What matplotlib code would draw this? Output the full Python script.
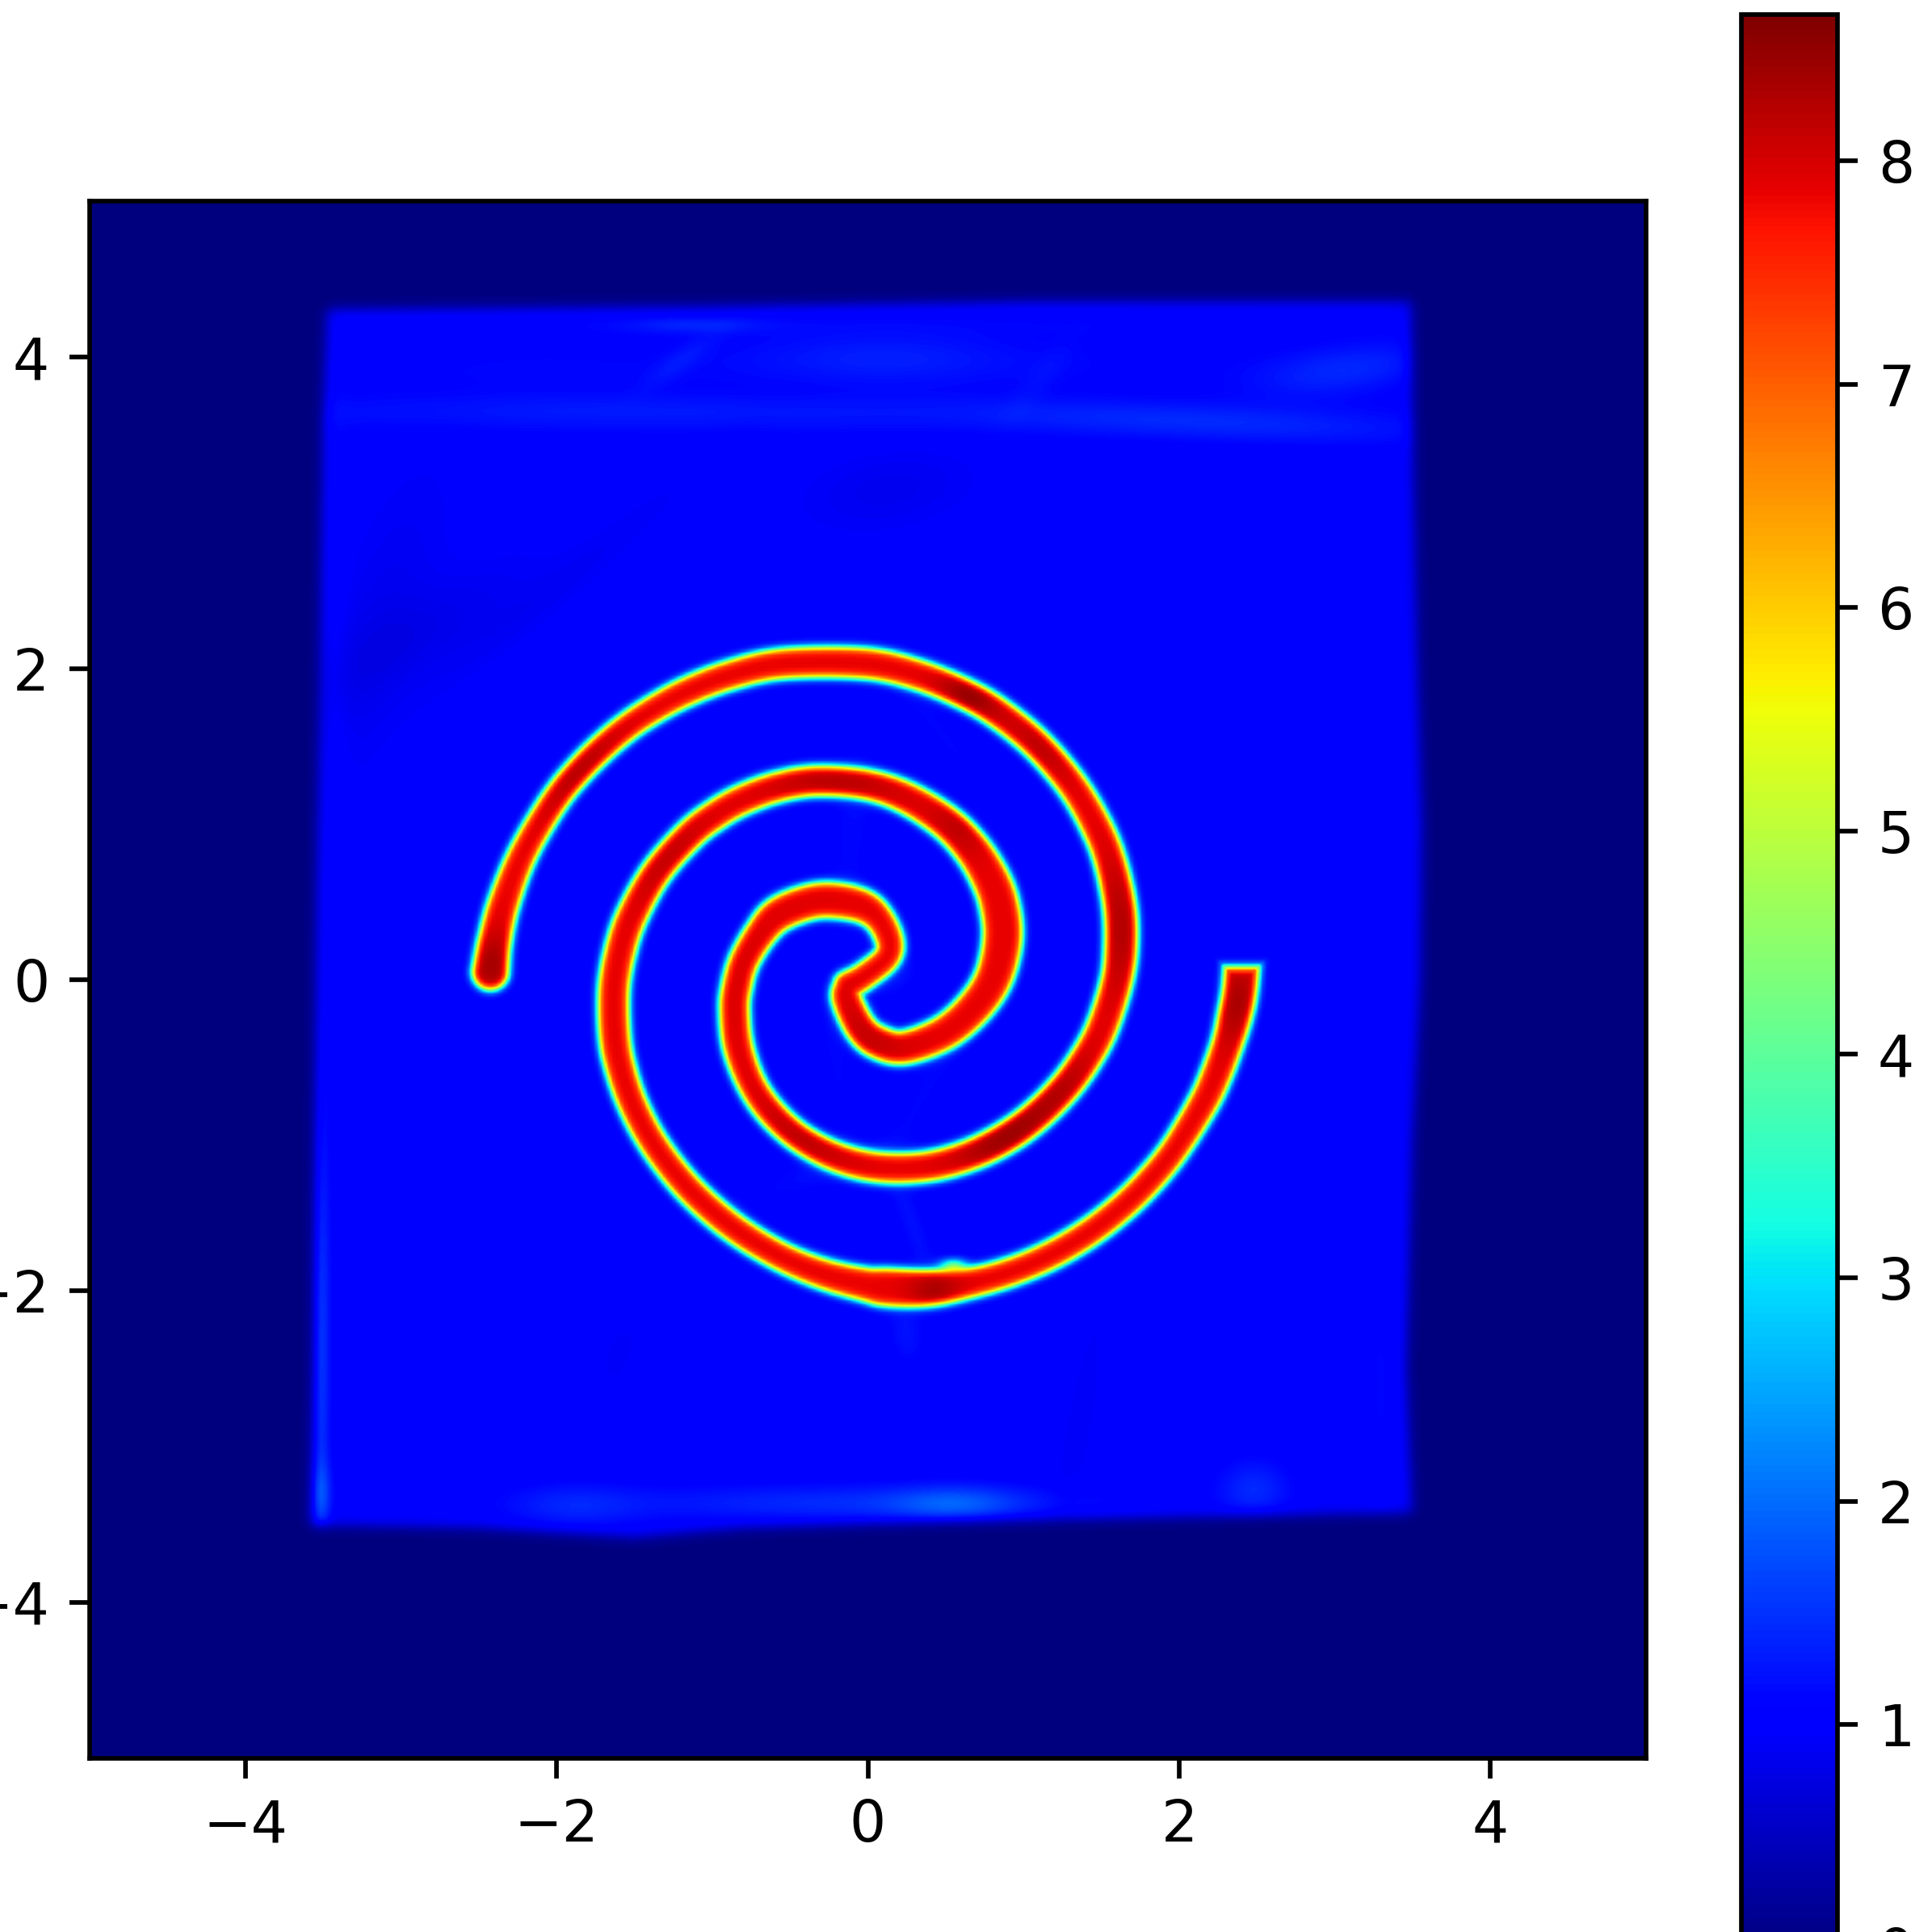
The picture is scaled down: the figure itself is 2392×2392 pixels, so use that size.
import numpy as np
import matplotlib
matplotlib.use("Agg")
import matplotlib.pyplot as plt

# Centre lines of the two spiral arms (data units), with half-widths
arm_a_x = [-2.414,-2.40,-2.345,-2.224,-2.038,-1.857,-1.649,-1.442,-1.182,-0.888,-0.542,-0.023,0.323,0.652,0.877,1.102,1.309,1.482,1.569,1.621,1.629,1.603,1.516,1.412,1.257,1.066,0.859,0.616,0.357,0.063,-0.197,-0.439,-0.629,-0.759,-0.828,-0.845,-0.836,-0.810,-0.689,-0.577,-0.369,-0.196,-0.023,0.081,0.141,0.115,-0.023,-0.127]
arm_a_y = [0.053,0.25,0.50,0.814,1.143,1.350,1.549,1.696,1.843,1.964,2.034,2.025,1.964,1.826,1.696,1.489,1.229,0.987,0.762,0.468,0.208,-0.016,-0.293,-0.484,-0.674,-0.864,-1.020,-1.132,-1.201,-1.205,-1.141,-1.011,-0.847,-0.657,-0.414,-0.190,-0.051,0.122,0.295,0.425,0.503,0.511,0.470,0.381,0.243,0.139,0.027,-0.034]
arm_a_w = [0.115,0.105,0.098,0.09,0.087,0.087,0.087,0.087,0.09,0.092,0.095,0.097,0.095,0.095,0.095,0.095,0.095,0.098,0.10,0.104,0.104,0.10,0.10,0.10,0.10,0.10,0.10,0.097,0.095,0.095,0.093,0.09,0.09,0.09,0.095,0.095,0.095,0.095,0.10,0.11,0.112,0.112,0.105,0.092,0.087,0.085,0.085,0.09]
arm_b_x = [2.41,2.395,2.365,2.315,2.235,2.139,1.966,1.793,1.620,1.412,1.170,0.911,0.651,0.392,0.132,-0.023,-0.283,-0.543,-0.802,-1.010,-1.21,-1.390,-1.511,-1.598,-1.632,-1.641,-1.589,-1.511,-1.355,-1.147,-0.974,-0.801,-0.577,-0.334,-0.023,0.236,0.496,0.669,0.799,0.859,0.868,0.825,0.669,0.487,0.236,0.063,-0.049,-0.136,-0.127]
arm_b_y = [0.25,-0.05,-0.22,-0.40,-0.61,-0.795,-1.089,-1.297,-1.470,-1.625,-1.764,-1.868,-1.945,-1.997,-1.995,-1.965,-1.885,-1.76,-1.60,-1.425,-1.265,-1.037,-0.795,-0.570,-0.363,-0.051,0.209,0.425,0.693,0.935,1.065,1.169,1.246,1.281,1.260,1.177,1.013,0.831,0.641,0.468,0.260,0.018,-0.172,-0.335,-0.432,-0.397,-0.302,-0.120,-0.034]
arm_b_w = [0.112,0.11,0.108,0.10,0.098,0.095,0.09,0.09,0.09,0.09,0.09,0.09,0.095,0.115,0.12,0.105,0.095,0.09,0.09,0.09,0.09,0.09,0.092,0.095,0.098,0.098,0.098,0.098,0.095,0.095,0.095,0.095,0.095,0.095,0.095,0.10,0.108,0.115,0.122,0.125,0.125,0.12,0.115,0.11,0.105,0.105,0.10,0.095,0.09]
arm_b_cap_y = 0.085
arm_a_outer = 41
arm_b_outer = 45

# Outline of the filled square
left_edge_y = [4.35,3.5,2.0,0.5,-1.0,-2.5,-3.5]
left_edge_x = [-3.47,-3.50,-3.52,-3.54,-3.55,-3.56,-3.58]
right_edge_y = [4.35,3.5,2.0,1.0,0.0,-1.0,-2.5,-3.45]
right_edge_x = [3.49,3.50,3.53,3.56,3.55,3.50,3.46,3.50]
bottom_edge_x = [-3.6,-2.5,-1.5,-0.8,0.5,1.5,2.5,3.5]
bottom_edge_y = [-3.50,-3.52,-3.58,-3.52,-3.48,-3.46,-3.44,-3.42]
top_edge_x = [-3.5,-1.0,1.0,3.5]
top_edge_y = [4.31,4.33,4.36,4.36]

# Faint features: centre x, y, spread along, spread across, angle (deg), amplitude
blob_x = [2.2,3.06,0.08,-1.12,-1.2,-1.6,0.56,-0.1,2.48,-1.89,-3.52,-3.52,-2.8,0.13,-1.9,-3.2,0.29,0.25,0.5,-0.1,0.35,-0.2,0.0,3.3,0.0,0.5,-2.5,1.1,1.35,0.55,-3.45,0.2,-1.6,-0.35]
blob_y = [3.58,3.92,4.0,4.21,3.98,3.67,-3.37,-3.36,-3.27,-3.38,-2.3,-3.3,2.25,3.15,2.6,2.2,-1.58,-2.28,1.55,0.95,-0.75,-0.55,3.6,-2.6,4.22,3.95,3.9,3.85,-2.9,-1.835,1.5,0.0,-2.4,-1.25]
blob_l = [1.0,0.4,0.55,0.3,0.2,1.5,0.28,1.0,0.16,0.3,1.0,0.14,0.55,0.4,0.9,0.8,0.28,0.14,0.4,0.35,0.4,0.35,3.5,0.9,3.0,1.8,0.9,0.22,0.7,0.06,1.6,0.12,0.3,0.35]
blob_s = [0.08,0.11,0.11,0.035,0.05,0.07,0.08,0.08,0.13,0.10,0.04,0.05,0.18,0.18,0.09,0.22,0.06,0.08,0.06,0.09,0.07,0.06,0.09,0.09,0.07,0.14,0.15,0.06,0.08,0.03,0.08,0.06,0.14,0.08]
blob_t = [-3,8,0,0,35,0,0,0,0,0,90,90,30,10,40,70,110,100,-50,85,60,100,0,90,0,0,0,50,80,0,90,40,70,20]
blob_a = [0.30,0.38,0.24,0.3,0.2,0.16,0.62,0.45,0.42,0.34,0.70,0.55,-0.16,-0.14,-0.08,-0.14,0.2,0.22,0.12,0.14,0.12,0.12,0.16,0.12,0.1,0.12,0.1,0.1,-0.08,3.0,0.12,0.15,-0.06,0.15]

# Deeper red patches on the band: x, y, spread, amplitude
core_x = [-1.85,0.65,1.10,1.62,0.88,-0.2,-2.41,2.38,0.43,-0.4,1.25,-0.8,-1.3,0.6,0.0]
core_y = [1.35,1.82,1.49,0.35,-1.0,1.25,0.1,-0.15,-2.0,-1.0,-0.67,0.0,0.8,1.0,-0.4]
core_s = [0.25,0.15,0.2,0.3,0.25,0.3,0.15,0.2,0.12,0.25,0.2,0.4,0.25,0.15,0.2]
core_a = [0.35,0.6,0.3,0.4,0.55,0.35,0.5,0.45,0.45,0.3,0.3,0.1,0.25,0.3,0.25]

x_ticks = [-4,-2,0,2,4]
y_ticks = [-4,-2,0,2,4]
cbar_ticks = [0,1,2,3,4,5,6,7,8]
vmin, vmax = 0.0, 8.654


def catmull(xs, ys, ws, n=30):
    P = np.column_stack([xs, ys, ws]).astype(float)
    P = np.vstack([2*P[0]-P[1], P, 2*P[-1]-P[-2]])
    out = []
    t = np.linspace(0, 1, n, endpoint=False)[:, None]
    for i in range(1, len(P)-2):
        p0, p1, p2, p3 = P[i-1], P[i], P[i+1], P[i+2]
        out.append(0.5*(2*p1 + (p2-p0)*t + (2*p0-5*p1+4*p2-p3)*t**2 + (3*p1-p0-3*p2+p3)*t**3))
    out.append(P[-2][None, :])
    return np.vstack(out)


def steady(xs, ys, stop, bw=0.32):
    # local line fit of radius against angle over the read points, to take out reading jitter
    xs, ys = np.asarray(xs, float), np.asarray(ys, float)
    th = np.unwrap(np.arctan2(ys, xs))
    r = np.hypot(xs, ys)
    rs = r.copy()
    for i in range(stop):
        w = np.exp(-0.5*((th[:stop]-th[i])/bw)**2)
        A = np.column_stack([np.ones(stop), th[:stop]-th[i]])
        sol = np.linalg.lstsq(A*np.sqrt(w)[:, None], r[:stop]*np.sqrt(w), rcond=None)[0]
        f = min(1.0, (stop-1-i)/3)
        rs[i] = f*sol[0]+(1-f)*r[i]
    return rs*np.cos(th), rs*np.sin(th)


N = 400
gx = (np.arange(N)+0.5)/N*10-5
gy = (np.arange(N)+0.5)/N*10-5
X, Y = np.meshgrid(gx, gy)

lo = np.interp(Y, left_edge_y[::-1], left_edge_x[::-1])
ro = np.interp(Y, right_edge_y[::-1], right_edge_x[::-1])
bo = np.interp(X, bottom_edge_x, bottom_edge_y)
to = np.interp(X, top_edge_x, top_edge_y)
e = 0.045
mask = (0.5+0.5*np.tanh((X-lo)/e))*(0.5+0.5*np.tanh((ro-X)/e))*(0.5+0.5*np.tanh((Y-bo)/e))*(0.5+0.5*np.tanh((to-Y)/e))

Z = np.full_like(X, 1.0)
for bx, by, bl, bs, bt, ba in zip(blob_x, blob_y, blob_l, blob_s, blob_t, blob_a):
    c, s = np.cos(np.radians(bt)), np.sin(np.radians(bt))
    u = (X-bx)*c+(Y-by)*s
    v = -(X-bx)*s+(Y-by)*c
    Z += ba*np.exp(-0.5*(u/bl)**2-0.5*(v/bs)**2)
Z *= mask

sd = np.full_like(X, 1.0)
h = gx[1]-gx[0]
arms = [(arm_a_x, arm_a_y, arm_a_w, arm_a_outer), (arm_b_x, arm_b_y, arm_b_w, arm_b_outer)]
for k, (ax_, ay_, aw_, stop) in enumerate(arms):
    sx_, sy_ = steady(ax_, ay_, stop)
    arm = catmull(sx_, sy_, aw_)
    part = np.full_like(X, 1.0)
    for px, py, pw in arm:
        i0 = max(int((px+5-0.45)/h), 0); i1 = min(int((px+5+0.45)/h)+1, N)
        j0 = max(int((py+5-0.45)/h), 0); j1 = min(int((py+5+0.45)/h)+1, N)
        d = np.hypot(X[j0:j1, i0:i1]-px, Y[j0:j1, i0:i1]-py)-pw
        part[j0:j1, i0:i1] = np.minimum(part[j0:j1, i0:i1], d)
    if k == 1:
        near = X > 2.1
        part[near] = np.maximum(part[near], Y[near]-arm_b_cap_y)
    sd = np.minimum(sd, part)
band = 0.5-0.5*np.tanh(sd/0.027)
Z += 0.22*np.exp(-np.maximum(sd, 0)/0.05)*mask

peak = np.full_like(X, 7.85)
for cx, cy, cs, ca in zip(core_x, core_y, core_s, core_a):
    peak += ca*np.exp(-0.5*((X-cx)**2+(Y-cy)**2)/cs**2)
Z = Z+(peak-Z)*band

W, H = 2392, 2392
fig = plt.figure(figsize=(W/512, H/512), dpi=512)
ax = fig.add_axes([111/W, (H-2177)/H, (2038-111)/W, (2177-249)/H])
im = ax.imshow(Z, origin="lower", extent=[-5, 5, -5, 5], cmap="jet", vmin=vmin, vmax=vmax, interpolation="bilinear")
ax.set_xticks(x_ticks)
ax.set_yticks(y_ticks)

cax = fig.add_axes([2156/W, (H-2412)/H, (2275-2156)/W, (2412-18)/H])
cb = fig.colorbar(im, cax=cax)
cb.set_ticks(cbar_ticks)

fig.savefig("out.png", dpi=512)
